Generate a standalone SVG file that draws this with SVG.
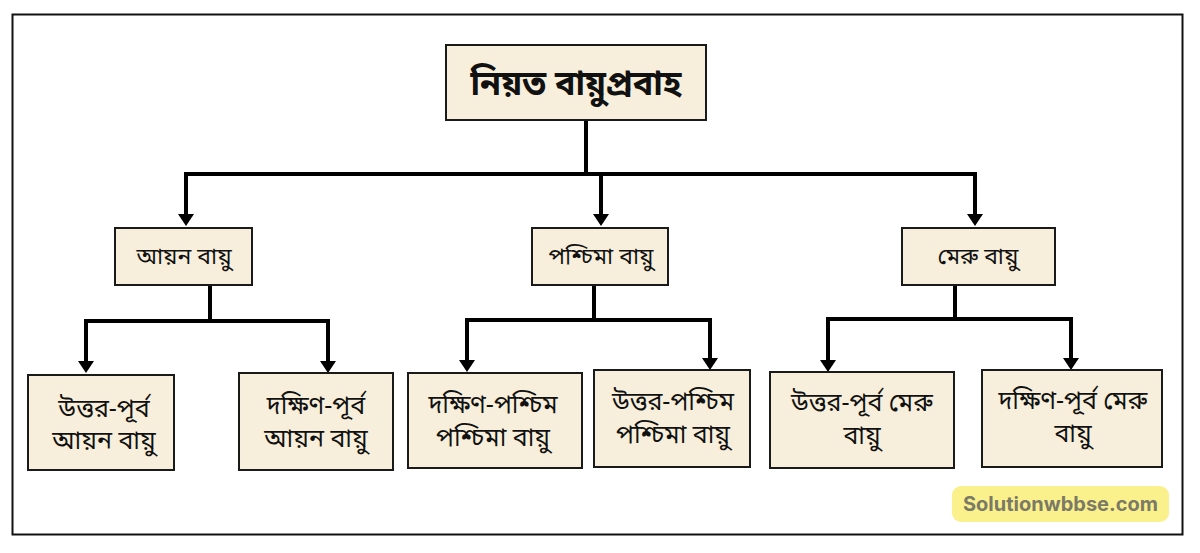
<svg xmlns="http://www.w3.org/2000/svg" width="1200" height="553" viewBox="0 0 1200 553">
<style>
.box{fill:#f7efdc;stroke:#1a1a1a;stroke-width:2}
.t{font-family:"Noto Sans Bengali","Noto Sans","Noto Serif Bengali",sans-serif;font-size:25px;fill:#111;text-anchor:middle}
.m{font-size:23px}
.tt{font-size:34px;font-weight:bold}
.ln{fill:none;stroke:#000;stroke-width:4}
.wm{font-family:"Inter","Liberation Sans",sans-serif;font-size:20px;font-weight:bold;fill:#7b7a66;text-anchor:middle}
</style>
<defs>
<marker id="ah" viewBox="0 0 12 16" refX="1" refY="8" markerWidth="12" markerHeight="16" markerUnits="userSpaceOnUse" orient="auto">
<path d="M0,0 L12,8 L0,16 Z" fill="#000"/>
</marker>
</defs>
<rect x="0" y="0" width="1200" height="553" fill="#fff"/>
<rect x="12.5" y="14.5" width="1170" height="520" fill="none" stroke="#111" stroke-width="2"/>
<g id="connectors">
<path class="ln" d="M586,120 V174"/>
<path class="ln" d="M186,174 H975"/>
<path class="ln" d="M186,172 V215" marker-end="url(#ah)"/>
<path class="ln" d="M601,172 V215" marker-end="url(#ah)"/>
<path class="ln" d="M975,172 V215" marker-end="url(#ah)"/>
<path class="ln" d="M210,285 V321"/>
<path class="ln" d="M86,321 H328"/>
<path class="ln" d="M86,319 V362" marker-end="url(#ah)"/>
<path class="ln" d="M328,319 V362" marker-end="url(#ah)"/>
<path class="ln" d="M594,285 V320"/>
<path class="ln" d="M467,320 H710"/>
<path class="ln" d="M467,318 V361" marker-end="url(#ah)"/>
<path class="ln" d="M710,318 V359" marker-end="url(#ah)"/>
<path class="ln" d="M955,285 V319"/>
<path class="ln" d="M828,319 H1071"/>
<path class="ln" d="M828,317 V361" marker-end="url(#ah)"/>
<path class="ln" d="M1071,317 V359" marker-end="url(#ah)"/>
</g>
<g id="root">
<rect class="box" x="446" y="45" width="260" height="75"/>
<text class="t tt" x="576" y="95">নিয়ত বায়ুপ্রবাহ</text>
</g>
<g id="ayan">
<rect class="box" x="115" y="228" width="137" height="57"/>
<text class="t m" x="184" y="264">আয়ন বায়ু</text>
</g>
<g id="paschima">
<rect class="box" x="532" y="228" width="136" height="57"/>
<text class="t m" x="601" y="264">পশ্চিমা বায়ু</text>
</g>
<g id="meru">
<rect class="box" x="902" y="228" width="153" height="57"/>
<text class="t m" x="978" y="264">মেরু বায়ু</text>
</g>
<g id="ayan-ne">
<rect class="box" x="28" y="375" width="146" height="95"/>
<text class="t" x="104" y="417">উত্তর-পূর্ব</text>
<text class="t" x="104" y="449">আয়ন বায়ু</text>
</g>
<g id="ayan-se">
<rect class="box" x="239" y="373" width="154" height="97"/>
<text class="t" x="316" y="414">দক্ষিণ-পূর্ব</text>
<text class="t" x="316" y="447">আয়ন বায়ু</text>
</g>
<g id="pas-sw">
<rect class="box" x="408" y="373" width="174" height="95"/>
<text class="t" x="493" y="413">দক্ষিণ-পশ্চিম</text>
<text class="t" x="493" y="446">পশ্চিমা বায়ু</text>
</g>
<g id="pas-nw">
<rect class="box" x="594" y="370" width="156" height="97"/>
<text class="t" x="673" y="410">উত্তর-পশ্চিম</text>
<text class="t" x="673" y="443">পশ্চিমা বায়ু</text>
</g>
<g id="meru-ne">
<rect class="box" x="770" y="372" width="184" height="96"/>
<text class="t" x="862" y="411">উত্তর-পূর্ব মেরু</text>
<text class="t" x="862" y="444">বায়ু</text>
</g>
<g id="meru-se">
<rect class="box" x="982" y="370" width="180" height="97"/>
<text class="t" x="1073" y="409">দক্ষিণ-পূর্ব মেরু</text>
<text class="t" x="1073" y="442">বায়ু</text>
</g>
<g id="watermark">
<rect x="952" y="486" width="217" height="36" rx="9" fill="#fbf18c"/>
<text class="wm" x="1060.5" y="511">Solutionwbbse.com</text>
</g>
</svg>
